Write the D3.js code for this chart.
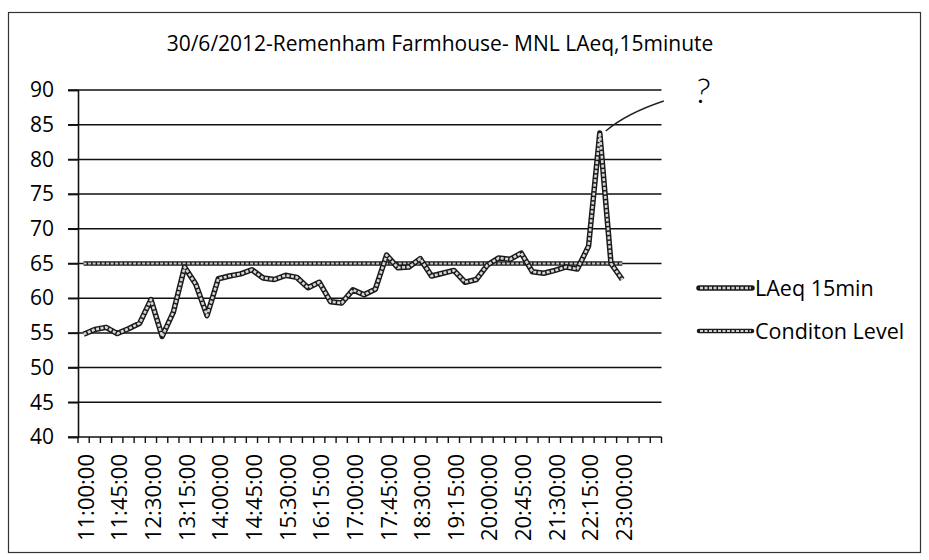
<!DOCTYPE html>
<html>
<head>
<meta charset="utf-8">
<script src="https://cdn.jsdelivr.net/npm/d3@7"></script>
<style>
  html, body { margin: 0; padding: 0; background: #fff; }
  svg text { font-family: "Open Sans", "Liberation Sans", sans-serif; fill: #000; }
</style>
</head>
<body>
<svg id="chart" width="929" height="560"></svg>
<script>
// ---- data ----
const title = "30/6/2012-Remenham Farmhouse- MNL LAeq,15minute";
const categories = ["11:00:00","11:15:00","11:30:00","11:45:00","12:00:00","12:15:00","12:30:00","12:45:00",
  "13:00:00","13:15:00","13:30:00","13:45:00","14:00:00","14:15:00","14:30:00","14:45:00",
  "15:00:00","15:15:00","15:30:00","15:45:00","16:00:00","16:15:00","16:30:00","16:45:00",
  "17:00:00","17:15:00","17:30:00","17:45:00","18:00:00","18:15:00","18:30:00","18:45:00",
  "19:00:00","19:15:00","19:30:00","19:45:00","20:00:00","20:15:00","20:30:00","20:45:00",
  "21:00:00","21:15:00","21:30:00","21:45:00","22:00:00","22:15:00","22:30:00","22:45:00",
  "23:00:00","23:15:00","23:30:00","23:45:00"];
const tickLabels = ["11:00:00","11:45:00","12:30:00","13:15:00","14:00:00","14:45:00","15:30:00","16:15:00",
  "17:00:00","17:45:00","18:30:00","19:15:00","20:00:00","20:45:00","21:30:00","22:15:00","23:00:00"];
const laeq = [54.8,55.5,55.8,54.9,55.6,56.4,59.8,54.5,58.0,64.5,62.0,57.5,62.8,63.2,63.5,64.1,
  62.9,62.7,63.3,63.0,61.5,62.3,59.5,59.3,61.2,60.5,61.3,66.2,64.4,64.5,65.7,63.2,
  63.6,64.0,62.3,62.7,64.8,65.8,65.6,66.5,63.8,63.6,64.0,64.5,64.2,67.5,83.8,65.0,62.7];
const condition = laeq.map(() => 65);
const yTicks = [40,45,50,55,60,65,70,75,80,85,90];
const seriesNames = ["LAeq 15min", "Conditon Level"];

// ---- layout ----
const svg = d3.select("#chart");
const plot = {left: 78, right: 661.5, top: 90, bottom: 437};

svg.append("rect").attr("x", 8.5).attr("y", 12.5).attr("width", 912).attr("height", 540)
  .attr("fill", "none").attr("stroke", "#333").attr("stroke-width", 1.2);

const x = d3.scaleBand().domain(categories).range([plot.left, plot.right]).padding(0);
const y = d3.scaleLinear().domain([40, 90]).range([plot.bottom, plot.top]);
const cx = d => x(d) + x.bandwidth() / 2;

// title
svg.append("text").attr("x", 440).attr("y", 51).attr("text-anchor", "middle")
  .style("font-size", "21px").text(title);

// gridlines
svg.append("g").selectAll("line").data(yTicks.filter(t => t > 40)).join("line")
  .attr("x1", plot.left - 10).attr("x2", plot.right)
  .attr("y1", d => y(d)).attr("y2", d => y(d))
  .attr("stroke", "#111").attr("stroke-width", 1.5);

// y axis
const yAxis = svg.append("g").attr("transform", `translate(${plot.left},0)`)
  .call(d3.axisLeft(y).tickValues(yTicks).tickSize(10).tickPadding(14).tickFormat(d3.format("d")));
yAxis.select(".domain").attr("stroke", "#111").attr("stroke-width", 1.6);
yAxis.selectAll(".tick line").attr("stroke", "#111").attr("stroke-width", 1.5);
yAxis.selectAll(".tick text").style("font-size", "21px").attr("fill", "#000")
  .style("font-family", "'Open Sans', sans-serif");

// x axis: ticks at band boundaries
const boundaries = categories.map(c => x(c)).concat([plot.right]);
svg.append("line").attr("x1", plot.left - 10).attr("x2", plot.right)
  .attr("y1", plot.bottom).attr("y2", plot.bottom).attr("stroke", "#111").attr("stroke-width", 1.6);
svg.append("g").selectAll("line").data(boundaries).join("line")
  .attr("x1", d => d).attr("x2", d => d)
  .attr("y1", plot.bottom).attr("y2", plot.bottom + 6)
  .attr("stroke", "#111").attr("stroke-width", 1.4);
svg.append("g").selectAll("text").data(tickLabels).join("text")
  .attr("transform", d => `translate(${cx(d) + 2},${plot.bottom + 17}) rotate(-90)`)
  .attr("text-anchor", "end").attr("dy", "0.36em")
  .style("font-size", "22px").text(d => d);

// series
const line = d3.line().x((d, i) => cx(categories[i])).y(d => y(d));
function doubleLine(data, outerW, innerW, innerColor) {
  svg.append("path").datum(data).attr("d", line).attr("fill", "none")
    .attr("stroke", "#1a1a1a").attr("stroke-width", outerW).attr("stroke-linejoin", "round");
  svg.append("path").datum(data).attr("d", line).attr("fill", "none")
    .attr("stroke", innerColor).attr("stroke-width", innerW).attr("stroke-linejoin", "round")
    .attr("stroke-dasharray", "3,1.5");
}
doubleLine(condition, 4.5, 2, "#c8c8c8");
doubleLine(laeq, 5.5, 2.6, "#d6d6d6");

// legend
const leg = svg.append("g");
[0, 1].forEach(k => {
  const ly = 288 + k * 43;
  leg.append("line").attr("x1", 699).attr("x2", 752).attr("y1", ly).attr("y2", ly)
    .attr("stroke", "#1a1a1a").attr("stroke-width", k ? 4.5 : 5.5).attr("stroke-linecap", "round");
  leg.append("line").attr("x1", 700).attr("x2", 751).attr("y1", ly).attr("y2", ly)
    .attr("stroke", "#d0d0d0").attr("stroke-width", k ? 2 : 2.6).attr("stroke-dasharray", "3,1.5");
  leg.append("text").attr("x", 755).attr("y", ly).attr("dy", "0.35em")
    .style("font-size", "21.5px").text(seriesNames[k]);
});

// handwritten annotation anchored to the peak
const peakI = laeq.indexOf(d3.max(laeq));
const px = cx(categories[peakI]), py = y(laeq[peakI]);
svg.append("path")
  .attr("d", `M${px + 6},${py - 2} C${px + 20},${py - 14} ${px + 40},${py - 24} ${px + 64},${py - 32}`)
  .attr("fill", "none").attr("stroke", "#222").attr("stroke-width", 1.4);
svg.append("text").attr("x", px + 96).attr("y", py - 30)
  .attr("transform", `rotate(8,${px + 104},${py - 45})`)
  .style("font-size", "34px").style("font-weight", "300").style("font-family", "Lato, sans-serif")
  .text("?");
</script>
</body>
</html>
